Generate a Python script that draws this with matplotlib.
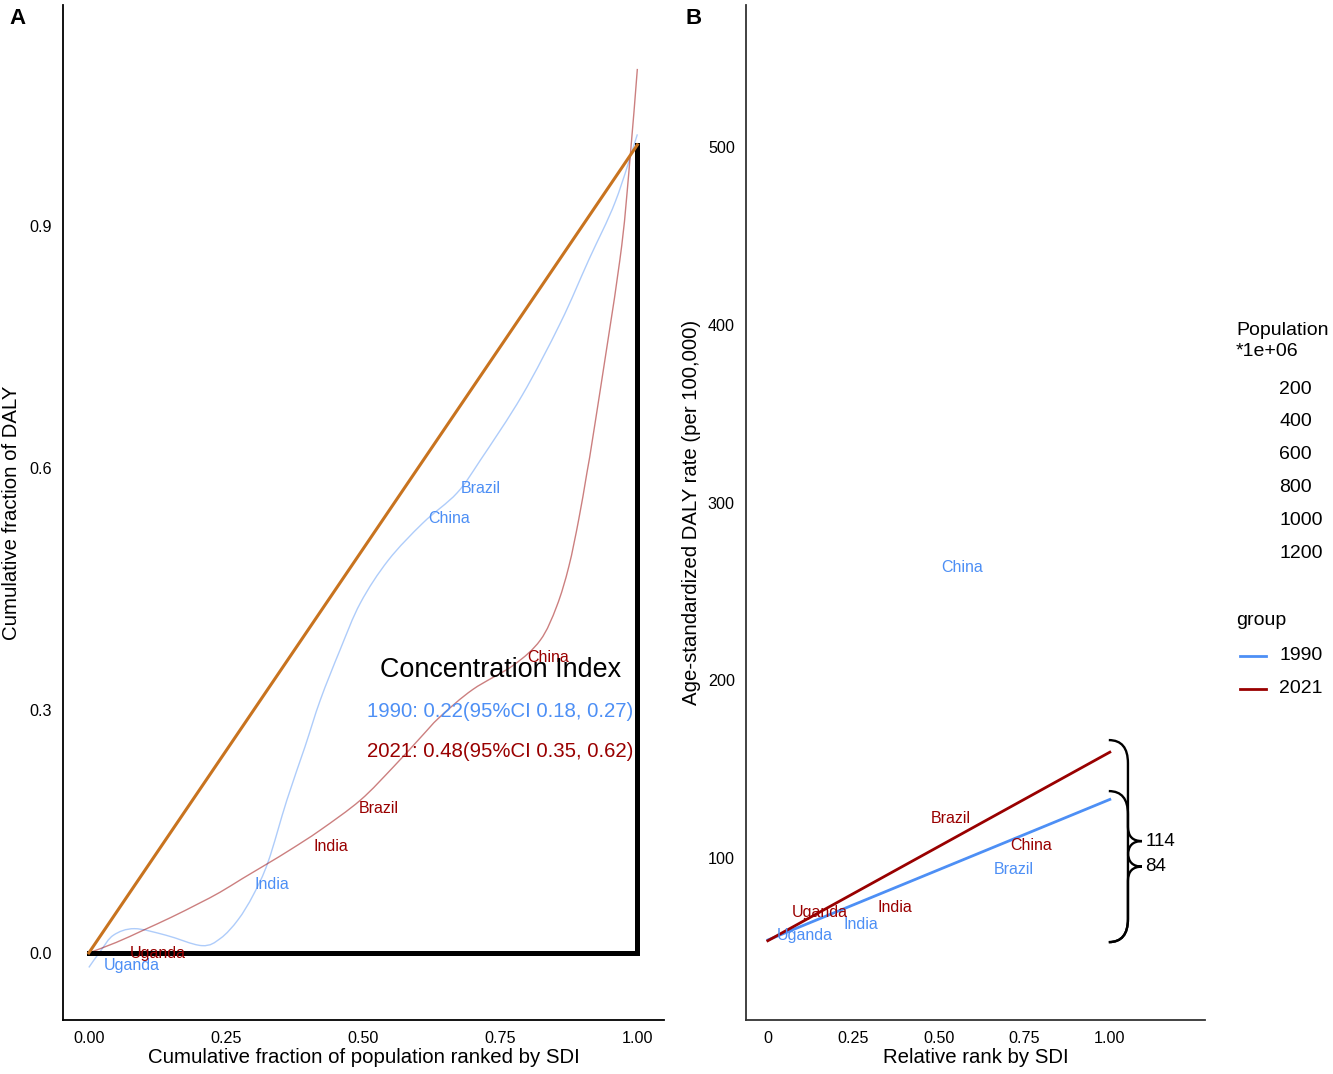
import numpy as np
import matplotlib
matplotlib.use("Agg")
import matplotlib.pyplot as plt
from matplotlib.path import Path
from matplotlib.patches import PathPatch
from matplotlib.lines import Line2D

plt.rcParams['font.family'] = ['Liberation Sans', 'DejaVu Sans']

blue = '#4D8FF5'
red = '#990000'

# ---- panel A: concentration curves ----
cum_pop_1990 = [0, 0.022, 0.045, 0.083, 0.14, 0.206, 0.24, 0.272, 0.30,
                0.327, 0.361, 0.394, 0.422, 0.458, 0.495, 0.546, 0.609, 0.671, 0.714,
                0.79, 0.86, 0.911, 0.96, 1.0]
cum_daly_1990 = [-0.018, 0.003, 0.022, 0.030, 0.022, 0.009, 0.018, 0.041, 0.072,
                 0.113, 0.189, 0.255, 0.313, 0.375, 0.433, 0.486, 0.532, 0.569, 0.61,
                 0.69, 0.78, 0.857, 0.93, 1.013]
cum_pop_2021 = [0, 0.05, 0.099, 0.15, 0.2, 0.239, 0.28, 0.327, 0.368, 0.422, 0.495, 0.555,
                0.604, 0.64, 0.70, 0.774, 0.823, 0.853, 0.875, 0.893, 0.908, 0.923,
                0.968, 0.985, 1.0]
cum_daly_2021 = [0, 0.013, 0.028, 0.044, 0.061, 0.075, 0.092, 0.111, 0.128, 0.152, 0.189, 0.230,
                 0.266, 0.292, 0.326, 0.356, 0.387, 0.429, 0.478, 0.536, 0.594, 0.656,
                 0.857, 0.97, 1.094]

countries = ['Uganda', 'India', 'China', 'Brazil']
lab_a_x_1990 = [0.078, 0.334, 0.657, 0.714]
lab_a_y_1990 = [-0.015, 0.085, 0.538, 0.575]
lab_a_x_2021 = [0.126, 0.442, 0.838, 0.529]
lab_a_y_2021 = [-0.001, 0.132, 0.365, 0.179]

ci_years = ['1990', '2021']
ci_est = [0.22, 0.48]
ci_low = [0.18, 0.35]
ci_high = [0.27, 0.62]

# ---- panel B: slope index of inequality ----
rank_ends = [0, 1.0]
rate_1990 = [53.9, 133.0]
rate_2021 = [53.5, 159.6]
lab_b_x_1990 = [0.108, 0.272, 0.567, 0.719]
lab_b_y_1990 = [56.7, 62.9, 263.7, 93.8]
lab_b_x_2021 = [0.152, 0.371, 0.769, 0.535]
lab_b_y_2021 = [69.1, 72.4, 107.3, 122.5]
brace_low = 52.7
brace_high = [166.4, 137.7]
sii_labels = ['114', '84']

pop_sizes = [200, 400, 600, 800, 1000, 1200]


def smooth_path(xs, ys):
    # catmull-rom through the read points, drawn as bezier segments
    p = np.column_stack([xs, ys]).astype(float)
    p = np.vstack([p[0], p, p[-1]])
    verts = [tuple(p[1])]
    codes = [Path.MOVETO]
    for i in range(1, len(p) - 2):
        c1 = p[i] + (p[i + 1] - p[i - 1]) / 6
        c2 = p[i + 1] - (p[i + 2] - p[i]) / 6
        verts += [tuple(c1), tuple(c2), tuple(p[i + 1])]
        codes += [Path.CURVE4] * 3
    return Path(verts, codes)


fig = plt.figure(figsize=(13.33, 10.74), dpi=100)
axA = fig.add_axes([0.0473, 0.0503, 0.451, 0.945])
axB = fig.add_axes([0.5596, 0.0503, 0.3443, 0.945])

# panel A
axA.plot([0, 1], [0, 1], color='#C8731F', lw=2.2, zorder=3)
axA.plot([0, 1, 1], [0, 0, 1], color='black', lw=3.6, zorder=2, solid_joinstyle='miter')
axA.add_patch(PathPatch(smooth_path(cum_pop_1990, cum_daly_1990), fill=False,
                        edgecolor=blue, alpha=0.45, lw=1.0))
axA.add_patch(PathPatch(smooth_path(cum_pop_2021, cum_daly_2021), fill=False,
                        edgecolor=red, alpha=0.5, lw=1.0))
for i, c in enumerate(countries):
    axA.text(lab_a_x_1990[i], lab_a_y_1990[i], c, color=blue, fontsize=11.5, ha='center', va='center')
    axA.text(lab_a_x_2021[i], lab_a_y_2021[i], c, color=red, fontsize=11.5, ha='center', va='center')

axA.text(0.75, 0.350, 'Concentration Index', fontsize=19.4, ha='center', va='center')
ci_y = [0.299, 0.249]
for i, yr in enumerate(ci_years):
    s = f"{yr}: {ci_est[i]:.2f}(95%CI {ci_low[i]:.2f}, {ci_high[i]:.2f})"
    axA.text(0.75, ci_y[i], s, color=[blue, red][i], fontsize=14.7, ha='center', va='center')

axA.set_xlim(-0.047, 1.049)
axA.set_ylim(-0.083, 1.173)
axA.set_xticks([0, 0.25, 0.5, 0.75, 1.0])
axA.set_xticklabels(['0.00', '0.25', '0.50', '0.75', '1.00'])
axA.set_yticks([0, 0.3, 0.6, 0.9])
axA.set_yticklabels(['0.0', '0.3', '0.6', '0.9'])
axA.set_xlabel('Cumulative fraction of population ranked by SDI', fontsize=14.7, va='center')
axA.set_ylabel('Cumulative fraction of DALY', fontsize=14.7, va='center')
axA.xaxis.set_label_coords(0.5, -0.037)
axA.yaxis.set_label_coords(-0.085, 0.5)

# panel B
axB.plot(rank_ends, rate_1990, color=blue, lw=2.0)
axB.plot(rank_ends, rate_2021, color=red, lw=2.0)
for i, c in enumerate(countries):
    axB.text(lab_b_x_1990[i], lab_b_y_1990[i], c, color=blue, fontsize=11.5, ha='center', va='center')
    axB.text(lab_b_x_2021[i], lab_b_y_2021[i], c, color=red, fontsize=11.5, ha='center', va='center')


def brace(ax, ylo, yhi, x0=0.997, xs=1.053, xt=1.094, r=13, rm=8):
    ym = (ylo + yhi) / 2
    verts = [(x0, yhi), (xs, yhi), (xs, yhi - r), (xs, ym + rm),
             (xs, ym), (xt, ym), (xs, ym), (xs, ym - rm),
             (xs, ylo + r), (xs, ylo), (x0, ylo)]
    codes = [Path.MOVETO, Path.CURVE3, Path.CURVE3, Path.LINETO,
             Path.CURVE3, Path.CURVE3, Path.CURVE3, Path.CURVE3,
             Path.LINETO, Path.CURVE3, Path.CURVE3]
    ax.add_patch(PathPatch(Path(verts, codes), fill=False, lw=1.7, color='black'))
    return ym


for i, top in enumerate(brace_high):
    ym = brace(axB, brace_low, top)
    axB.text(1.104, ym, sii_labels[i], fontsize=13.5, ha='left', va='center')

axB.set_xlim(-0.064, 1.278)
axB.set_ylim(8.9, 580)
axB.set_xticks([0, 0.25, 0.5, 0.75, 1.0])
axB.set_xticklabels(['0', '0.25', '0.50', '0.75', '1.00'])
axB.set_yticks([100, 200, 300, 400, 500])
axB.set_xlabel('Relative rank by SDI', fontsize=14.7, va='center')
axB.set_ylabel('Age-standardized DALY rate (per 100,000)', fontsize=14.7, va='center')
axB.xaxis.set_label_coords(0.5, -0.037)
axB.yaxis.set_label_coords(-0.118, 0.5)

for ax, sc in [(axA, 'black'), (axB, '#333333')]:
    ax.spines['top'].set_visible(False)
    ax.spines['right'].set_visible(False)
    for s in ['left', 'bottom']:
        ax.spines[s].set_color(sc)
        ax.spines[s].set_linewidth(1.3)
    ax.tick_params(length=0, labelsize=11.6, pad=8, colors='black')

fig.text(0.0135, 0.983, 'A', fontsize=16, fontweight='bold', ha='center', va='center')
fig.text(0.520, 0.983, 'B', fontsize=16, fontweight='bold', ha='center', va='center')

# legends drawn by hand on the right
fig.text(0.9272, 0.6927, 'Population', fontsize=14, va='center')
fig.text(0.9272, 0.6723, '*1e+06', fontsize=14, va='center')
for i, p in enumerate(pop_sizes):
    fig.text(0.9595, 0.6378 - i * 0.0306, str(p), fontsize=14, va='center')
fig.text(0.9272, 0.4227, 'group', fontsize=14, va='center')
for i, (yr, col) in enumerate(zip(ci_years, [blue, red])):
    yy = 0.3892 - i * 0.0307
    fig.add_artist(Line2D([0.930, 0.950], [yy, yy], color=col, lw=2.0, transform=fig.transFigure))
    fig.text(0.9595, yy, yr, fontsize=14, va='center')

fig.savefig('out.png', dpi=100)
